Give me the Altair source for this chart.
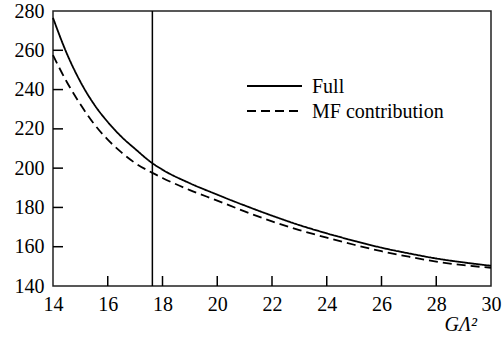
import altair as alt
import pandas as pd

# Data
g_lambda2 = [14, 14.5, 15, 15.5, 16, 16.5, 17, 17.63, 18, 19, 20, 21, 22, 23, 24, 25, 26, 27, 28, 29, 30]
full = [276.5, 258.5, 244.0, 232.5, 223.5, 216.0, 209.8, 202.5, 199.2, 192.3, 186.5, 181.0, 175.8, 171.0, 166.8, 163.0, 159.5, 156.6, 154.0, 152.0, 150.3]
mf_contribution = [257.5, 244.0, 232.5, 222.5, 214.5, 208.0, 202.6, 197.6, 195.0, 188.8, 183.5, 178.0, 172.9, 168.5, 164.6, 161.0, 157.7, 154.9, 152.4, 150.6, 149.3]
series_names = ["Full", "MF contribution"]
vline_x = [17.63]
x_ticks = [14, 16, 18, 20, 22, 24, 26, 28, 30]
y_ticks = [140, 160, 180, 200, 220, 240, 260, 280]
x_title = "GΛ²"

FONT = "Times New Roman"

rows = []
for x, f, m in zip(g_lambda2, full, mf_contribution):
    rows.append({"x": x, "y": f, "series": series_names[0]})
    rows.append({"x": x, "y": m, "series": series_names[1]})
df = pd.DataFrame(rows)

xscale = alt.Scale(domain=[14, 30], nice=False, zero=False)
yscale = alt.Scale(domain=[140, 280], nice=False, zero=False)


def xaxis():
    return alt.Axis(values=x_ticks, title=x_title, ticks=False, domain=False, grid=False,
                    labelFont=FONT, labelFontSize=20, labelColor="black", labelPadding=8,
                    labelFlush=False, labelOverlap=False,
                    titleFont=FONT, titleFontSize=20, titleFontStyle="italic", titleFontWeight="normal",
                    titleColor="black", titleAlign="left", titleBaseline="alphabetic",
                    titleX=391, titleY=44)


def yaxis():
    return alt.Axis(values=y_ticks, title=None, ticks=False, domain=False, grid=False,
                    labelFont=FONT, labelFontSize=20, labelColor="black", labelPadding=9,
                    labelFlush=False, labelOverlap=False)


lines = alt.Chart(df).mark_line(color="black", strokeWidth=1.8, interpolate="monotone").encode(
    x=alt.X("x:Q", scale=xscale, axis=xaxis()),
    y=alt.Y("y:Q", scale=yscale, axis=yaxis()),
    strokeDash=alt.StrokeDash(
        "series:N",
        scale=alt.Scale(domain=series_names, range=[[1, 0], [9, 5]]),
        legend=alt.Legend(orient="none", legendX=237, legendY=66, title=None,
                          symbolOpacity=0, symbolSize=4, labelFont=FONT, labelFontSize=20,
                          labelColor="black", labelOffset=2, rowPadding=5, labelBaseline="middle"),
    ),
    detail="series:N",
)

vline = alt.Chart(pd.DataFrame({"x": vline_x})).mark_rule(color="black", strokeWidth=1.5).encode(
    x=alt.X("x:Q", scale=xscale, axis=xaxis()),
)

yt = alt.Chart(pd.DataFrame({"v": y_ticks[1:-1]})).mark_rule(color="black", strokeWidth=1.5).encode(
    y=alt.Y("v:Q", scale=yscale, axis=yaxis()), x=alt.value(0), x2=alt.value(10)
)
xt = alt.Chart(pd.DataFrame({"v": x_ticks[1:-1]})).mark_rule(color="black", strokeWidth=1.5).encode(
    x=alt.X("v:Q", scale=xscale, axis=xaxis()), y=alt.value(275), y2=alt.value(265)
)

# legend line samples
leg_solid = alt.Chart(pd.DataFrame({"s": [series_names[0]]})).mark_rule(color="black", strokeWidth=1.8).encode(
    x=alt.value(194), x2=alt.value(249), y=alt.value(75)
)
leg_dash = alt.Chart(pd.DataFrame({"s": [series_names[1]]})).mark_rule(color="black", strokeWidth=1.8, strokeDash=[9, 5]).encode(
    x=alt.value(194), x2=alt.value(249), y=alt.value(100)
)

chart = alt.layer(lines, vline, yt, xt, leg_solid, leg_dash).properties(
    width=438, height=275,
    autosize=alt.AutoSizeParams(type="none"),
    padding={"left": 53, "top": 11, "right": 12, "bottom": 55},
    background="white",
).configure_view(stroke="#222", strokeWidth=1.5).configure_legend(
    labelFont=FONT, labelFontSize=20, labelColor="black"
)

chart.save("out.html", embed_options={"renderer": "svg", "actions": False})
